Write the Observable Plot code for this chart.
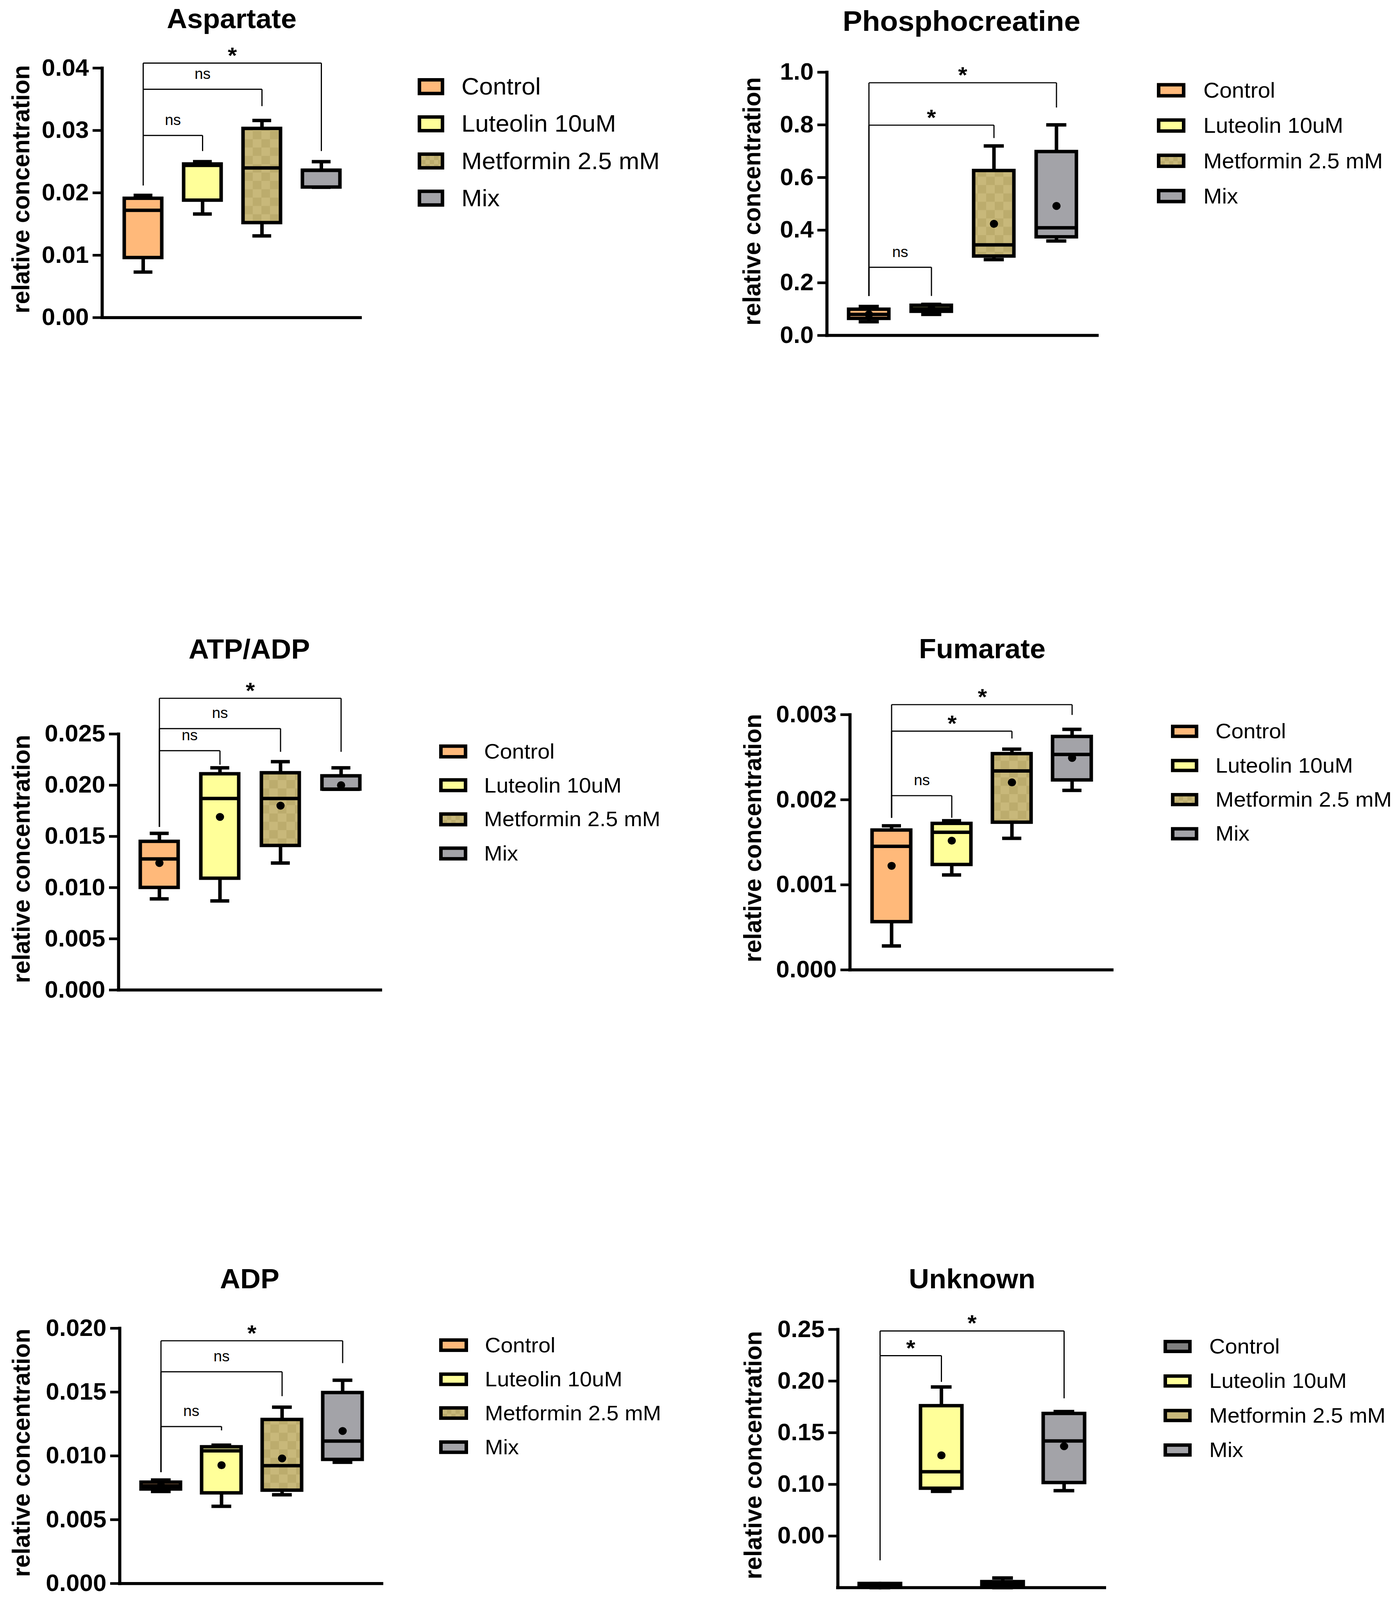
<!DOCTYPE html>
<html><head><meta charset="utf-8">
<script src="https://cdn.jsdelivr.net/npm/d3@7"></script>
<script src="https://cdn.jsdelivr.net/npm/@observablehq/plot@0.6"></script>
<style>
html,body{margin:0;padding:0;background:#fff;overflow:hidden;}
#page{position:relative;width:3573px;height:4219px;overflow:hidden;background:#fff;font-family:"Liberation Sans",Arial,sans-serif;color:#000;transform-origin:0 0;}
.abs{position:absolute;}
.title{font-weight:bold;line-height:1;white-space:nowrap;transform:translateX(-50%);}
.ylabel{font-weight:bold;font-size:63px;line-height:1;white-space:nowrap;transform:translate(-50%,-50%) rotate(-90deg);}
.sw{box-sizing:border-box;border:9px solid #000;}
.lt{line-height:1;white-space:nowrap;transform:translateY(-50%);}
.checks{background-color:#C8B87A;background-image:conic-gradient(#BBAB6C 25%, transparent 0 50%, #BBAB6C 0 75%, transparent 0);background-size:22px 22px;}
</style></head><body>
<svg width="0" height="0" style="position:absolute">
  <defs>
    <pattern id="checks" width="44" height="44" patternUnits="userSpaceOnUse">
      <rect width="44" height="44" fill="#C8B87A"></rect>
      <rect width="22" height="22" fill="#BCAC6D"></rect>
      <rect x="22" y="22" width="22" height="22" fill="#BCAC6D"></rect>
    </pattern>
  </defs>
</svg>
<div id="page"></div>
<script>
// ---------- data ----------
const groups = ["Control", "Luteolin 10uM", "Metformin 2.5 mM", "Mix"];
const titles = ["Aspartate", "Phosphocreatine", "ATP/ADP", "Fumarate", "ADP", "Unknown"];
const yAxisLabel = "relative concentration";

// per group: [min, q1, median, q3, max, mean]
const aspartateBoxes = [
  [0.0073, 0.0096, 0.0172, 0.0191, 0.0196, null],
  [0.0166, 0.0188, 0.0244, 0.0246, 0.0250, null],
  [0.0131, 0.0152, 0.0240, 0.0303, 0.0316, null],
  [0.0209, 0.0209, 0.0236, 0.0236, 0.0250, null]
];
const phosphocreatineBoxes = [
  [0.052, 0.064, 0.080, 0.099, 0.110, 0.080],
  [0.080, 0.091, 0.101, 0.114, 0.118, 0.101],
  [0.288, 0.301, 0.344, 0.626, 0.720, 0.424],
  [0.359, 0.374, 0.409, 0.698, 0.800, 0.492]
];
const atpAdpBoxes = [
  [0.0089, 0.0100, 0.0128, 0.0145, 0.0153, 0.0124],
  [0.0087, 0.0109, 0.0187, 0.0211, 0.0217, 0.0169],
  [0.0124, 0.0141, 0.0187, 0.0212, 0.0223, 0.0180],
  [0.0196, 0.0196, 0.0196, 0.0209, 0.0217, 0.0200]
];
const fumarateBoxes = [
  [0.000282, 0.000565, 0.001452, 0.001642, 0.001694, 0.001223],
  [0.001116, 0.001237, 0.001618, 0.001720, 0.001753, 0.001519],
  [0.001546, 0.001734, 0.002339, 0.002540, 0.002594, 0.002204],
  [0.002110, 0.002231, 0.002532, 0.002742, 0.002828, 0.002492]
];
const adpBoxes = [
  [0.00721, 0.00739, 0.00766, 0.00793, 0.00811, 0.00766],
  [0.00605, 0.00709, 0.01040, 0.01070, 0.01084, 0.00927],
  [0.00695, 0.00730, 0.00923, 0.01284, 0.01382, 0.00980],
  [0.00950, 0.00971, 0.01116, 0.01495, 0.01593, 0.01195]
];
const unknownBoxes = [
  [0.0000, 0.0010, 0.0020, 0.0039, 0.0039, 0.0020],
  [0.0932, 0.0961, 0.1122, 0.1760, 0.1943, 0.1281],
  [0.0000, 0.0010, 0.0030, 0.0057, 0.0094, 0.0030],
  [0.0939, 0.1016, 0.1420, 0.1685, 0.1705, 0.1369]
];

// brackets: [from, to, level, left end, right end, label]
const aspartateBrackets = [
  ["Control", "Luteolin 10uM", 0.0292, 0.0212, 0.0267, "ns"],
  ["Control", "Metformin 2.5 mM", 0.0366, 0.0212, 0.0339, "ns"],
  ["Control", "Mix", 0.0408, 0.0212, 0.0267, "*"]
];
const phosphocreatineBrackets = [
  ["Control", "Luteolin 10uM", 0.259, 0.150, 0.150, "ns"],
  ["Control", "Metformin 2.5 mM", 0.799, 0.150, 0.750, "*"],
  ["Control", "Mix", 0.960, 0.150, 0.866, "*"]
];
const atpAdpBrackets = [
  ["Control", "Luteolin 10uM", 0.02337, 0.01593, 0.0220, "ns"],
  ["Control", "Metformin 2.5 mM", 0.02553, 0.01593, 0.02326, "ns"],
  ["Control", "Mix", 0.02849, 0.01593, 0.02326, "*"]
];
const fumarateBrackets = [
  ["Control", "Luteolin 10uM", 0.002048, 0.001788, 0.001788, "ns"],
  ["Control", "Metformin 2.5 mM", 0.002806, 0.001788, 0.002720, "*"],
  ["Control", "Mix", 0.003118, 0.001788, 0.002997, "*"]
];
const adpBrackets = [
  ["Control", "Luteolin 10uM", 0.0123, 0.00873, 0.0120, "ns"],
  ["Control", "Metformin 2.5 mM", 0.01659, 0.00873, 0.01468, "ns"],
  ["Control", "Mix", 0.01902, 0.00873, 0.01727, "*"]
];
const unknownBrackets = [
  ["Control", "Luteolin 10uM", 0.2246, 0.0265, 0.1992, "*"],
  ["Control", "Mix", 0.2485, 0.0265, 0.1833, "*"]
];

// y ticks and labels
const aspartateTicks = [0, 0.01, 0.02, 0.03, 0.04];
const aspartateTickLabels = ["0.00", "0.01", "0.02", "0.03", "0.04"];
const phosphocreatineTicks = [0, 0.2, 0.4, 0.6, 0.8, 1.0];
const phosphocreatineTickLabels = ["0.0", "0.2", "0.4", "0.6", "0.8", "1.0"];
const atpAdpTicks = [0, 0.005, 0.01, 0.015, 0.02, 0.025];
const atpAdpTickLabels = ["0.000", "0.005", "0.010", "0.015", "0.020", "0.025"];
const fumarateTicks = [0, 0.001, 0.002, 0.003];
const fumarateTickLabels = ["0.000", "0.001", "0.002", "0.003"];
const adpTicks = [0, 0.005, 0.01, 0.015, 0.02];
const adpTickLabels = ["0.000", "0.005", "0.010", "0.015", "0.020"];
const unknownTicks = [0.05, 0.10, 0.15, 0.20, 0.25];
const unknownTickLabels = ["0.00", "0.10", "0.15", "0.20", "0.25"];

// colours
const groupFills = ["#FFB97A", "#FFFF99", "url(#checks)", "#A3A3A8"];
const groupSwatches = ["#FFB97A", "#FFFF99", "checks", "#A3A3A8"];
const unknownFills = ["#808080", "#FFFF99", "#C8B87A", "#A3A3A8"];
const unknownSwatches = ["#808080", "#FFFF99", "#C8B87A", "#A3A3A8"];

// ---------- layout (pixel positions) ----------
const panels = [
  {title: titles[0], boxes: aspartateBoxes, brackets: aspartateBrackets, ticks: aspartateTicks, tickLabels: aspartateTickLabels,
   domain: [0, 0.04], fills: groupFills, swatches: groupSwatches,
   axisX: 261, right: 926, yTop: 179, yBottom: 837, pi: 0.37, po: 0.372,
   titleX: 593, titleBase: 74, titleSize: 72, ylabX: 53, ylabY: 499,
   legend: {sx: 1069, tx: 1181, y0: 228, dy: 98, w: 68, h: 45, font: 63}},
  {title: titles[1], boxes: phosphocreatineBoxes, brackets: phosphocreatineBrackets, ticks: phosphocreatineTicks, tickLabels: phosphocreatineTickLabels,
   domain: [0, 1.0], fills: groupFills, swatches: groupSwatches,
   axisX: 2116, right: 2812, yTop: 190, yBottom: 884, pi: 0.356, po: 0.353,
   titleX: 2461, titleBase: 81, titleSize: 75, ylabX: 1924, ylabY: 531,
   legend: {sx: 2961, tx: 3080, y0: 238, dy: 93, w: 73, h: 38, font: 57}},
  {title: titles[2], boxes: atpAdpBoxes, brackets: atpAdpBrackets, ticks: atpAdpTicks, tickLabels: atpAdpTickLabels,
   domain: [0, 0.025], fills: groupFills, swatches: groupSwatches,
   axisX: 303, right: 978, yTop: 1935, yBottom: 2610, pi: 0.374, po: 0.364,
   titleX: 638, titleBase: 1737, titleSize: 72, ylabX: 54, ylabY: 2265,
   legend: {sx: 1124, tx: 1239, y0: 1981, dy: 89.7, w: 72, h: 37, font: 56}},
  {title: titles[3], boxes: fumarateBoxes, brackets: fumarateBrackets, ticks: fumarateTicks, tickLabels: fumarateTickLabels,
   domain: [0, 0.003], fills: groupFills, swatches: groupSwatches,
   axisX: 2175, right: 2850, yTop: 1884, yBottom: 2557, pi: 0.355, po: 0.355,
   titleX: 2514, titleBase: 1736, titleSize: 72, ylabX: 1926, ylabY: 2210,
   legend: {sx: 2997, tx: 3111, y0: 1928, dy: 90, w: 70, h: 35, font: 56}},
  {title: titles[4], boxes: adpBoxes, brackets: adpBrackets, ticks: adpTicks, tickLabels: adpTickLabels,
   domain: [0, 0.02], fills: groupFills, swatches: groupSwatches,
   axisX: 306, right: 981, yTop: 3502, yBottom: 4175, pi: 0.35, po: 0.35,
   titleX: 639, titleBase: 3397, titleSize: 72, ylabX: 54, ylabY: 3831,
   legend: {sx: 1124, tx: 1241, y0: 3547, dy: 89.7, w: 74, h: 36, font: 56}},
  {title: titles[5], boxes: unknownBoxes, brackets: unknownBrackets, ticks: unknownTicks, tickLabels: unknownTickLabels,
   domain: [0, 0.25], fills: unknownFills, swatches: unknownSwatches,
   axisX: 2144, right: 2831, yTop: 3505, yBottom: 4186, pi: 0.325, po: 0.35,
   titleX: 2488, titleBase: 3397, titleSize: 72, ylabX: 1927, ylabY: 3837,
   legend: {sx: 2978, tx: 3095, y0: 3550, dy: 91, w: 72, h: 35, font: 56}}
];

const page = document.getElementById("page");

function addDiv(cls, text, style) {
  const d = document.createElement("div");
  d.className = "abs " + cls;
  if (text != null) d.textContent = text;
  Object.assign(d.style, style);
  page.appendChild(d);
  return d;
}

function buildPanel(cfg) {
  const mL = 230, mR = 30, mT = 230, mB = 40;
  const frameW = cfg.right - cfg.axisX, frameH = cfg.yBottom - cfg.yTop;
  const width = frameW + mL + mR, height = frameH + mT + mB;
  const step = frameW / (groups.length - cfg.pi + 2 * cfg.po);
  const bw = step * (1 - cfg.pi);

  const rows = groups.map((g, i) => {
    const [min, q1, median, q3, max, mean] = cfg.boxes[i];
    return {group: g, min, q1, median, q3, max, mean, fill: cfg.fills[i]};
  });
  const segs = [];
  for (const [from, to, level, leftEnd, rightEnd] of cfg.brackets) {
    segs.push({x1: from, y1: leftEnd, x2: from, y2: level});
    segs.push({x1: from, y1: level, x2: to, y2: level});
    segs.push({x1: to, y1: level, x2: to, y2: rightEnd});
  }
  const labelMarks = cfg.brackets.map(([from, to, level, , , label]) => {
    const span = groups.indexOf(to) - groups.indexOf(from);
    const star = label === "*";
    return Plot.text([{from, level, label}], {
      x: "from", y: "level", text: "label",
      dx: span * step / 2, dy: star ? -19 : -40,
      fontSize: star ? 60 : 39, fontWeight: star ? "bold" : "normal", fill: "black"
    });
  });

  const svg = Plot.plot({
    width, height, marginLeft: mL, marginRight: mR, marginTop: mT, marginBottom: mB,
    style: {background: "transparent", maxWidth: "none", overflow: "visible", color: "black",
            fontFamily: "'Liberation Sans', Arial, sans-serif", fontSize: "62px", fontWeight: "bold"},
    x: {type: "band", domain: groups, paddingInner: cfg.pi, paddingOuter: cfg.po, axis: null},
    y: {domain: cfg.domain, axis: null},
    color: {type: "identity"},
    marks: [
      Plot.ruleX(rows, {x: "group", y1: "min", y2: "q1", stroke: "black", strokeWidth: 9}),
      Plot.ruleX(rows, {x: "group", y1: "q3", y2: "max", stroke: "black", strokeWidth: 9}),
      Plot.tickY(rows, {x: "group", y: "min", stroke: "black", strokeWidth: 9, insetLeft: bw / 4, insetRight: bw / 4}),
      Plot.tickY(rows, {x: "group", y: "max", stroke: "black", strokeWidth: 9, insetLeft: bw / 4, insetRight: bw / 4}),
      Plot.barY(rows, {x: "group", y1: "q1", y2: "q3", fill: "fill", stroke: "black", strokeWidth: 9}),
      Plot.tickY(rows, {x: "group", y: "median", stroke: "black", strokeWidth: 9}),
      Plot.dot(rows.filter(d => d.mean != null), {x: "group", y: "mean", r: 10.5, fill: "black", stroke: "none"}),
      Plot.link(segs, {x1: "x1", y1: "y1", x2: "x2", y2: "y2", stroke: "black", strokeWidth: 3}),
      ...labelMarks,
      Plot.ruleY([cfg.domain[0]], {stroke: "black", strokeWidth: 8, insetLeft: -4}),
      Plot.frame({anchor: "left", stroke: "black", strokeWidth: 8}),
      Plot.axisY({ticks: cfg.ticks, tickFormat: d => cfg.tickLabels[cfg.ticks.indexOf(d)],
                  tickSize: 24, tickPadding: 10, fontSize: 62, fontWeight: "bold",
                  stroke: "black", strokeWidth: 7, label: null})
    ]
  });
  const wrap = addDiv("", null, {left: (cfg.axisX - mL) + "px", top: (cfg.yTop - mT) + "px", width: width + "px", height: height + "px"});
  wrap.appendChild(svg);

  addDiv("title", cfg.title, {left: cfg.titleX + "px", top: (cfg.titleBase - 0.8465 * cfg.titleSize) + "px", fontSize: cfg.titleSize + "px"});
  addDiv("ylabel", yAxisLabel, {left: cfg.ylabX + "px", top: cfg.ylabY + "px"});
  const L = cfg.legend;
  groups.forEach((g, i) => {
    const cy = L.y0 + i * L.dy;
    const sw = cfg.swatches[i];
    const s = addDiv("sw" + (sw === "checks" ? " checks" : ""), null, {
      left: L.sx + "px", top: (cy - L.h / 2) + "px", width: L.w + "px", height: L.h + "px"
    });
    if (sw !== "checks") s.style.backgroundColor = sw;
    addDiv("lt", g, {left: L.tx + "px", top: cy + "px", fontSize: L.font + "px"});
  });
}

panels.forEach(buildPanel);

// fit the 3573x4219 figure into the visible viewport
function fit() {
  const vw = document.documentElement.clientWidth || window.innerWidth;
  const vh = document.documentElement.clientHeight || window.innerHeight;
  if (vw > 500 && vh > 500) {
    page.style.transform = `scale(${vw / 3573}, ${vh / 4219})`;
  }
}
fit();
window.addEventListener("resize", fit);
</script>
</body></html>
